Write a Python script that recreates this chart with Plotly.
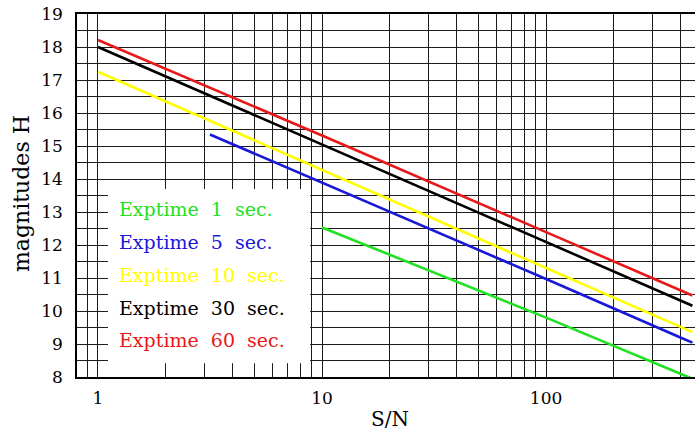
import math
import plotly.graph_objects as go

# ---- data ----
series_names = ["Exptime 1 sec.", "Exptime 5 sec.", "Exptime 10 sec.", "Exptime 30 sec.", "Exptime 60 sec."]
series_colors = ["#22e022", "#1818d8", "#ffff00", "#000000", "#e81818"]

sn_1s = [10, 100, 400, 450]
mag_1s = [12.53, 9.80, 8.09, 7.95]

sn_5s = [3.16, 10, 100, 400, 450]
mag_5s = [15.35, 13.89, 10.97, 9.19, 9.04]

sn_10s = [1, 10, 100, 400, 450]
mag_10s = [17.25, 14.27, 11.31, 9.51, 9.36]

sn_30s = [1, 10, 100, 400, 450]
mag_30s = [18.00, 15.04, 12.09, 10.31, 10.16]

sn_60s = [1, 10, 100, 400, 450]
mag_60s = [18.21, 15.32, 12.39, 10.62, 10.47]

x_grid_vals = [0.9, 1, 2, 3, 4, 5, 6, 7, 8, 9, 10, 20, 30, 40, 50, 60, 70, 80, 90, 100, 200, 300, 400]
x_label_vals = [1, 10, 100]
y_grid_vals = [8 + 0.5 * i for i in range(23)]
y_label_vals = list(range(8, 20))

xs = [sn_1s, sn_5s, sn_10s, sn_30s, sn_60s]
ys = [mag_1s, mag_5s, mag_10s, mag_30s, mag_60s]

SERIF = "DejaVu Serif, Liberation Serif, serif"
GRID = "#1c1c1c"

fig = go.Figure()
for x, y, c, n in zip(xs, ys, series_colors, series_names):
    fig.add_trace(go.Scatter(x=x, y=y, mode="lines", name=n,
                             line=dict(color=c, width=2.6), showlegend=False))

# legend box (white panel over grid)
fig.add_shape(type="rect", xref="x", yref="y", x0=1.108, x1=8.85, y0=8.42, y1=13.7,
              fillcolor="white", line=dict(width=0), layer="between")

legend_y = [13.1, 12.1, 11.1, 10.1, 9.12]
for n, c, yy in zip(series_names, series_colors, legend_y):
    fig.add_annotation(x=math.log10(1.216), y=yy, xref="x", yref="y", text=n.replace(" ", "\u00a0 "),
                       showarrow=False, xanchor="left", yanchor="middle",
                       font=dict(family=SERIF, size=19, color=c))

fig.add_annotation(x=(390 - 77) / 618, y=(377 - 419) / 363, xref="paper", yref="paper",
                   text="S/N", showarrow=False, xanchor="center", yanchor="middle",
                   font=dict(family=SERIF, size=20, color="black"))
fig.add_annotation(x=(21 - 77) / 618, y=(377 - 193) / 363, xref="paper", yref="paper",
                   text="magnitudes H", showarrow=False, textangle=-90,
                   xanchor="center", yanchor="middle",
                   font=dict(family=SERIF, size=22, color="black"))

fig.update_xaxes(type="log", range=[math.log10(0.806), math.log10(462)],
                 tickmode="array", tickvals=x_grid_vals,
                 ticktext=[str(v) if v in x_label_vals else "" for v in x_grid_vals],
                 showgrid=True, gridcolor=GRID, gridwidth=1,
                 showline=True, linecolor="black", linewidth=1.5, mirror=True,
                 ticks="", zeroline=False, ticklabelstandoff=5,
                 tickfont=dict(family=SERIF, size=17, color="black"))
fig.update_yaxes(range=[8, 19], tickmode="array", tickvals=y_grid_vals,
                 ticktext=[str(int(v)) if v == int(v) else "" for v in y_grid_vals],
                 showgrid=True, gridcolor=GRID, gridwidth=1,
                 showline=True, linecolor="black", linewidth=1.5,
                 ticks="", zeroline=False, ticklabelstandoff=9,
                 tickfont=dict(family=SERIF, size=17, color="black"))

fig.update_layout(width=695, height=432, margin=dict(l=77, r=0, t=14, b=55),
                  paper_bgcolor="white", plot_bgcolor="white", showlegend=False)

fig.write_html("out.html")
